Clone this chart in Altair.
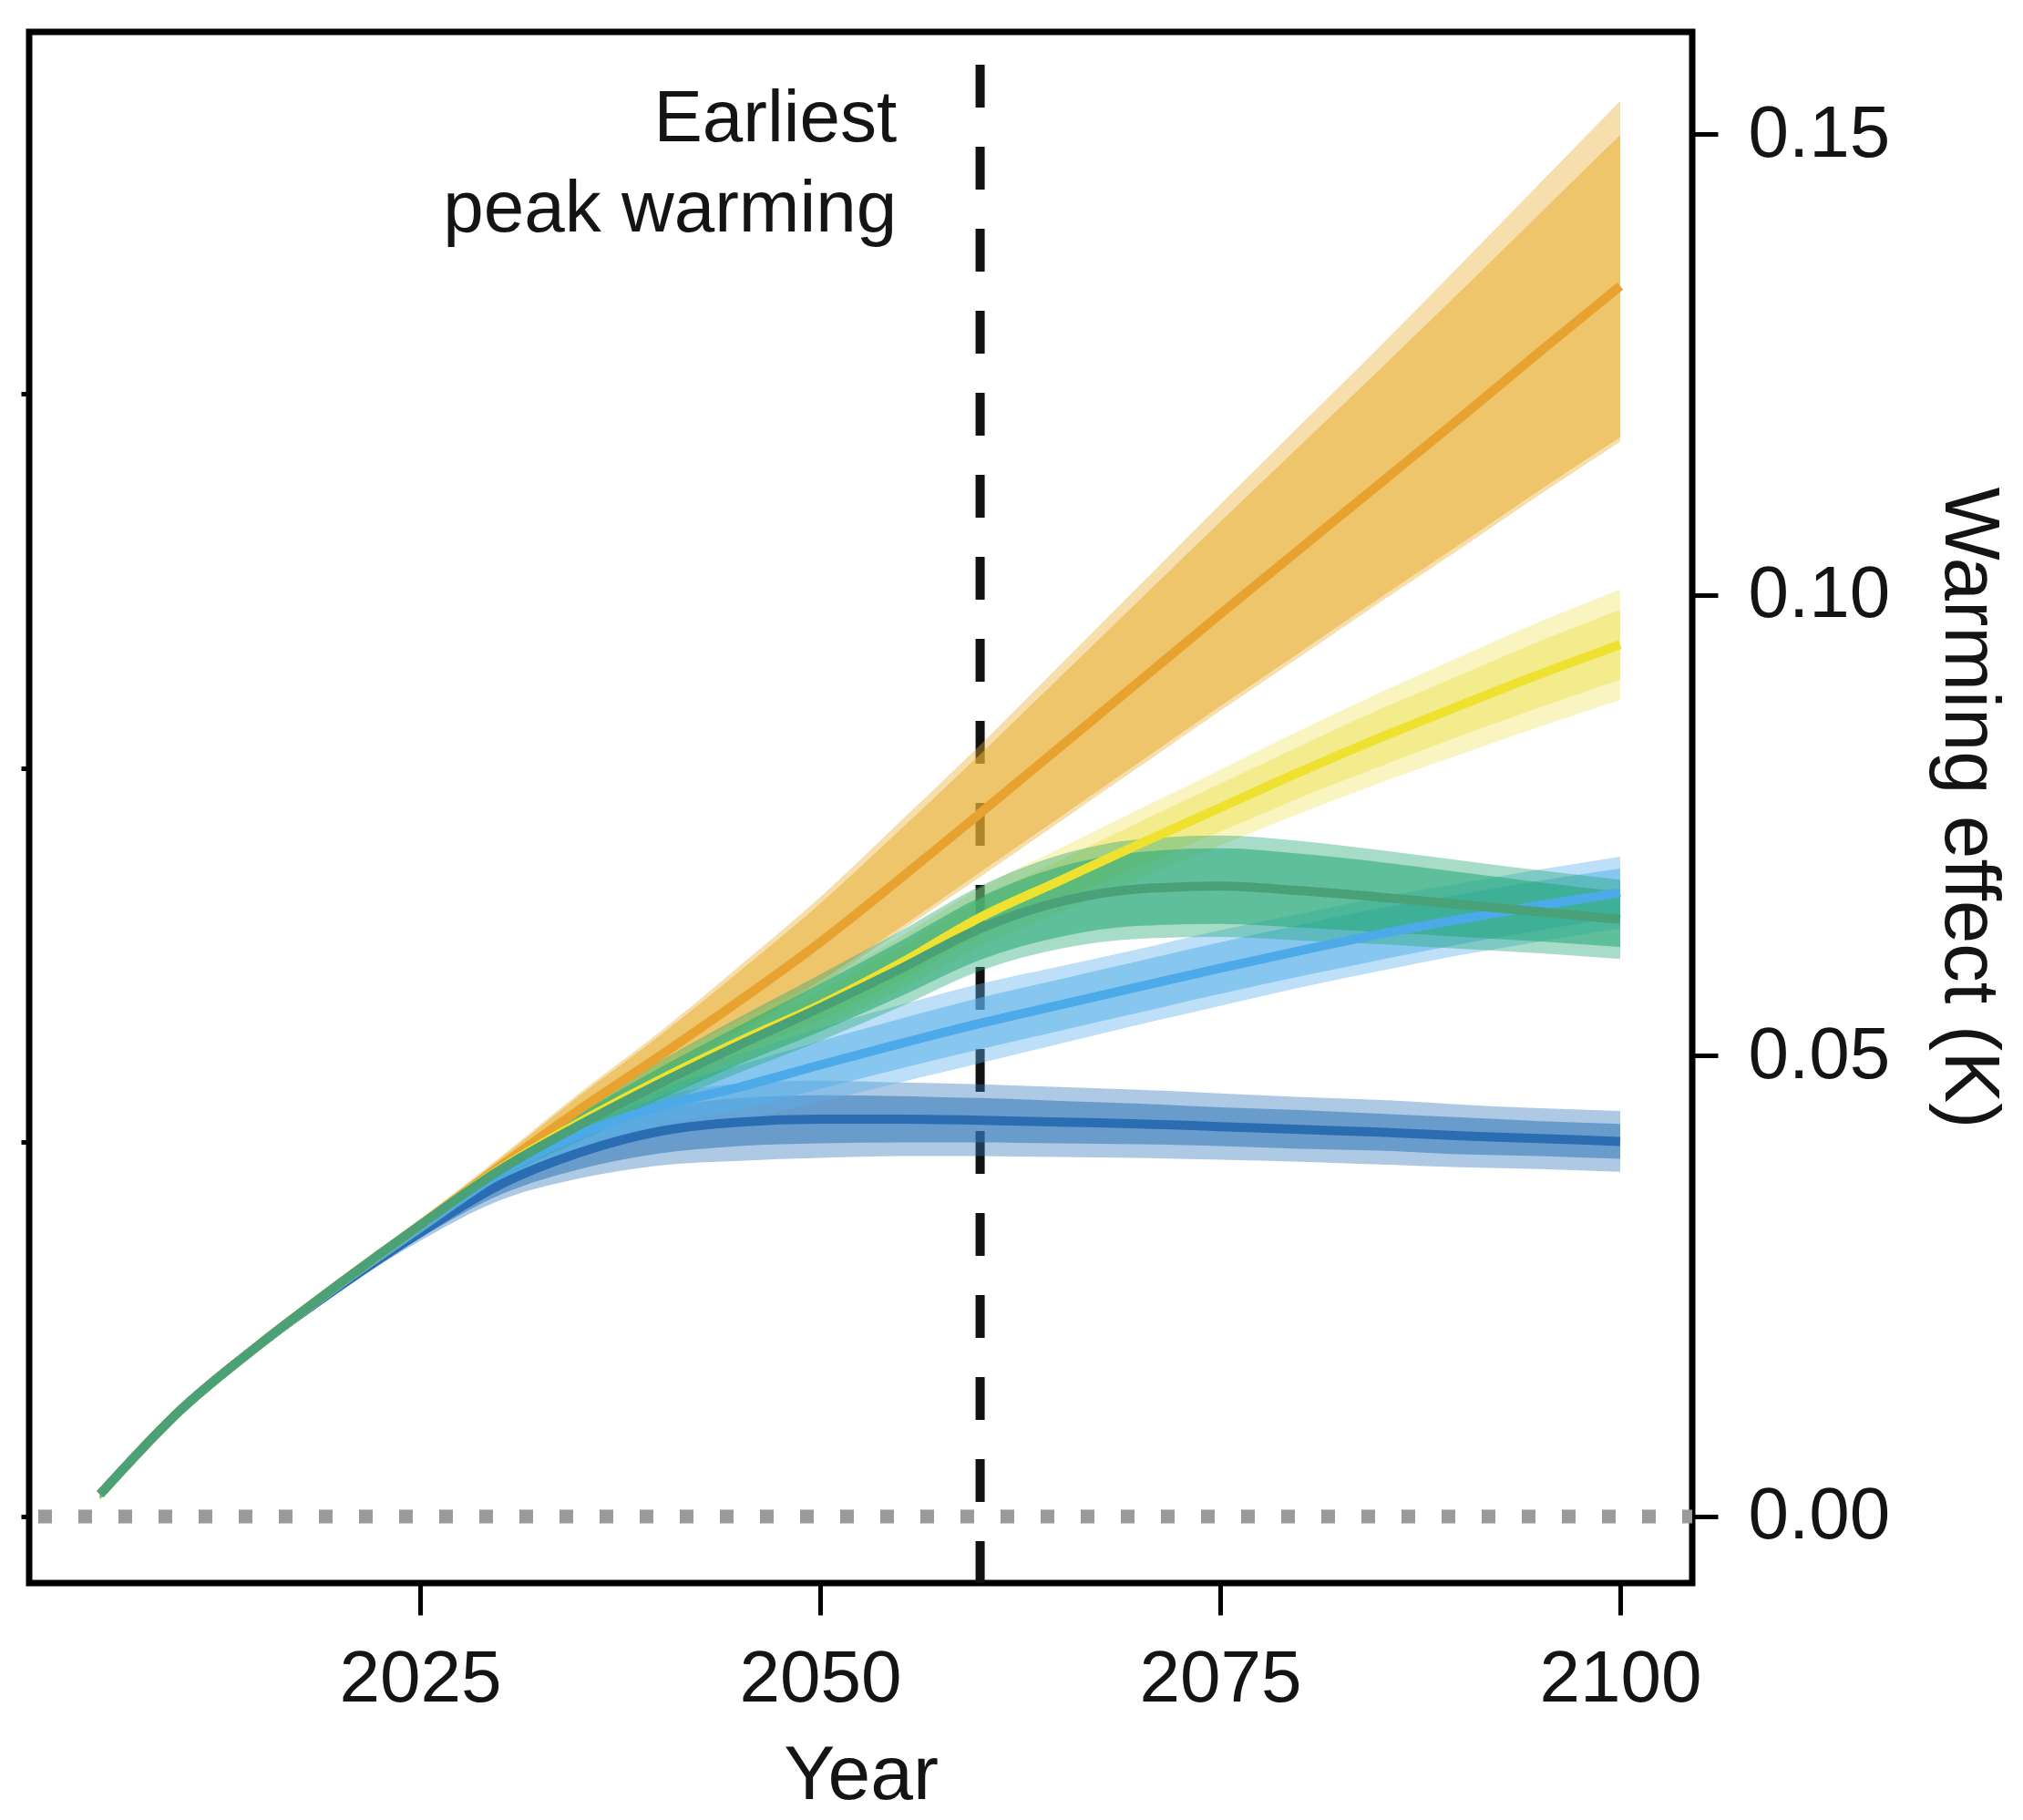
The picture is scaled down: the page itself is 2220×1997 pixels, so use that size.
import altair as alt
import pandas as pd

YEARS = [2005, 2010, 2015, 2020, 2025, 2030, 2035, 2040, 2045, 2050,
         2055, 2060, 2065, 2070, 2075, 2080, 2085, 2090, 2095, 2100]

# ---- orange scenario ----
OR_MED = [.0024, .0115, .0187, .0253, .0316, .0380, .0442, .0500, .0560, .0623,
          .0692, .0763, .0835, .0907, .0979, .1050, .1121, .1192, .1264, .1335]
OR_IN_LO = [.0020, .0111, .0183, .0249, .0311, .0372, .0427, .0478, .0528, .0581,
            .0639, .0699, .0759, .0819, .0879, .0938, .0997, .1055, .1114, .1171]
OR_IN_HI = [.0028, .0119, .0191, .0257, .0321, .0388, .0457, .0522, .0592, .0665,
            .0745, .0827, .0911, .0995, .1079, .1162, .1245, .1329, .1414, .1499]
OR_OUT_LO = [.0018, .0109, .0181, .0246, .0308, .0369, .0424, .0475, .0525, .0577,
             .0635, .0694, .0754, .0814, .0874, .0933, .0992, .1050, .1109, .1166]
OR_OUT_HI = [.0030, .0121, .0193, .0259, .0323, .0390, .0460, .0526, .0598, .0672,
             .0754, .0837, .0924, .1011, .1098, .1184, .1270, .1358, .1447, .1536]

# ---- yellow scenario ----
YE_MED = [.0024, .0115, .0187, .0253, .0316, .0377, .0428, .0474, .0516, .0555,
          .0600, .0650, .0690, .0730, .0769, .0808, .0845, .0880, .0914, .0946]
YE_IN_LO = [.0020, .0111, .0183, .0249, .0312, .0371, .0419, .0462, .0502, .0539,
            .0582, .0630, .0668, .0706, .0743, .0780, .0814, .0847, .0878, .0908]
YE_IN_HI = [.0028, .0119, .0191, .0257, .0320, .0383, .0437, .0486, .0530, .0571,
            .0618, .0670, .0712, .0754, .0795, .0836, .0876, .0913, .0950, .0984]
YE_OUT_LO = [.0019, .0110, .0182, .0248, .0311, .0368, .0414, .0455, .0493, .0529,
             .0571, .0618, .0655, .0692, .0728, .0763, .0796, .0827, .0857, .0886]
YE_OUT_HI = [.0029, .0120, .0192, .0258, .0321, .0386, .0442, .0493, .0539, .0581,
             .0629, .0682, .0725, .0768, .0810, .0853, .0894, .0933, .0971, .1006]

# ---- green scenario ----
GR_MED = [.0024, .0115, .0187, .0253, .0316, .0376, .0425, .0470, .0512, .0552,
          .0594, .0638, .0667, .0681, .0684, .0679, .0672, .0664, .0656, .0648]
GR_IN_LO = [.0020, .0111, .0183, .0249, .0312, .0369, .0413, .0453, .0491, .0526,
            .0564, .0604, .0629, .0641, .0643, .0639, .0634, .0629, .0624, .0618]
GR_IN_HI = [.0028, .0119, .0191, .0257, .0320, .0383, .0437, .0487, .0533, .0578,
            .0624, .0672, .0705, .0721, .0725, .0719, .0710, .0699, .0688, .0678]
GR_OUT_LO = [.0019, .0110, .0182, .0248, .0311, .0366, .0408, .0446, .0482, .0516,
             .0553, .0592, .0616, .0627, .0629, .0625, .0621, .0616, .0611, .0605]
GR_OUT_HI = [.0029, .0120, .0192, .0258, .0321, .0386, .0442, .0494, .0542, .0588,
             .0635, .0684, .0718, .0735, .0739, .0733, .0723, .0712, .0701, .0691]

# ---- light blue scenario ----
LB_MED = [.0024, .0115, .0187, .0252, .0313, .0372, .0415, .0445, .0466, .0490,
          .0513, .0535, .0555, .0575, .0595, .0614, .0632, .0648, .0663, .0677]
LB_IN_LO = [.0020, .0111, .0183, .0248, .0309, .0364, .0401, .0425, .0442, .0464,
            .0486, .0507, .0527, .0547, .0567, .0586, .0604, .0621, .0636, .0651]
LB_IN_HI = [.0028, .0119, .0191, .0256, .0317, .0380, .0429, .0465, .0490, .0516,
            .0540, .0563, .0583, .0603, .0623, .0642, .0660, .0675, .0690, .0703]
LB_OUT_LO = [.0019, .0110, .0182, .0247, .0308, .0360, .0394, .0415, .0430, .0450,
             .0471, .0492, .0513, .0534, .0554, .0574, .0592, .0609, .0624, .0638]
LB_OUT_HI = [.0029, .0120, .0192, .0257, .0318, .0384, .0436, .0475, .0502, .0530,
             .0555, .0578, .0597, .0616, .0636, .0654, .0672, .0687, .0702, .0716]

# ---- dark blue scenario ----
DB_MED = [.0024, .0115, .0187, .0250, .0308, .0360, .0395, .0418, .0428, .0431,
          .0431, .0430, .0428, .0426, .0423, .0420, .0417, .0413, .0410, .0407]
DB_IN_LO = [.0020, .0111, .0183, .0246, .0302, .0349, .0377, .0394, .0402, .0405,
            .0406, .0406, .0405, .0404, .0402, .0399, .0397, .0393, .0391, .0388]
DB_IN_HI = [.0028, .0119, .0191, .0254, .0314, .0371, .0413, .0442, .0454, .0457,
            .0456, .0454, .0451, .0448, .0444, .0441, .0437, .0433, .0429, .0426]
DB_OUT_LO = [.0019, .0110, .0182, .0245, .0299, .0343, .0367, .0381, .0386, .0389,
             .0391, .0391, .0390, .0389, .0387, .0385, .0382, .0379, .0377, .0374]
DB_OUT_HI = [.0029, .0120, .0192, .0255, .0317, .0377, .0423, .0455, .0470, .0473,
             .0471, .0469, .0466, .0463, .0459, .0455, .0452, .0447, .0443, .0440]

SERIES_NAMES = ["dark blue", "light blue", "orange", "yellow", "green"]
BAND_COLORS = ["#3177B8", "#5AB0EA", "#E8AE33", "#EFE461", "#24A779"]
LINE_COLORS = ["#2A6DB2", "#4DAAE8", "#E8A22F", "#EFE12F", "#4AA077"]
SERIES_DATA = [
    (DB_MED, DB_IN_LO, DB_IN_HI, DB_OUT_LO, DB_OUT_HI),
    (LB_MED, LB_IN_LO, LB_IN_HI, LB_OUT_LO, LB_OUT_HI),
    (OR_MED, OR_IN_LO, OR_IN_HI, OR_OUT_LO, OR_OUT_HI),
    (YE_MED, YE_IN_LO, YE_IN_HI, YE_OUT_LO, YE_OUT_HI),
    (GR_MED, GR_IN_LO, GR_IN_HI, GR_OUT_LO, GR_OUT_HI),
]

X_TICKS = [2025, 2050, 2075, 2100]
Y_TICKS = [0.0, 0.05, 0.10, 0.15]
LEFT_TICKS = [0.0, 0.0406, 0.0812, 0.1218]
PEAK_YEAR = 2060
ANNOT_TEXT = ["Earliest", "peak warming"]

X_MIN, X_MAX = 2000.57, 2104.5
Y_MIN, Y_MAX = -0.00722, 0.16108

FONT = "Liberation Sans"
TXT = "#141414"
W, H = 1825, 1702

xscale = alt.Scale(domain=[X_MIN, X_MAX], nice=False, zero=False)
yscale = alt.Scale(domain=[Y_MIN, Y_MAX], nice=False, zero=False)

x_axis = alt.Axis(orient="bottom", values=X_TICKS, format="d", domain=False, grid=False,
                  ticks=True, tickSize=35, tickWidth=5, tickColor="black",
                  labelFont=FONT, labelFontSize=80, labelColor=TXT, labelPadding=31,
                  title="Year", titleFont=FONT, titleFontSize=84, titleFontWeight="normal",
                  titleColor=TXT, titleBaseline="alphabetic", titleY=236)
right_axis = alt.Axis(orient="right", values=Y_TICKS, format=".2f", domain=False, grid=False,
                      tickSize=28, tickWidth=5, tickColor="black",
                      labelFont=FONT, labelFontSize=80, labelColor=TXT, labelPadding=33,
                      title="Warming effect (K)", titleFont=FONT, titleFontSize=85,
                      titleFontWeight="normal", titleColor=TXT, titleAngle=90,
                      titleBaseline="alphabetic", titleAlign="center", titleX=277, titleY=H / 2)
left_axis = alt.Axis(orient="left", values=LEFT_TICKS, domain=False, grid=False,
                     labels=False, tickSize=9, tickWidth=5, tickColor="black", title="")

layers = []

# zero reference line (dotted)
zero = alt.Chart(pd.DataFrame({"v": [0.0]})).mark_rule(
    color="#9a9a9a", strokeWidth=15, strokeDash=[15, 29], strokeDashOffset=4
).encode(y=alt.Y("v:Q", scale=yscale, axis=left_axis))
layers.append(zero)

# earliest peak warming (dashed)
peak = alt.Chart(pd.DataFrame({"yr": [PEAK_YEAR], "top": [0.15752], "bot": [Y_MIN]})).mark_rule(
    color="#111111", strokeWidth=10, strokeDash=[47, 43]
).encode(x=alt.X("yr:Q", scale=xscale, axis=x_axis),
         y=alt.Y("top:Q", scale=yscale, axis=None),
         y2="bot:Q")
layers.append(peak)

frames = []
for (med, ilo, ihi, olo, ohi), name in zip(SERIES_DATA, SERIES_NAMES):
    frames.append(pd.DataFrame({"year": YEARS, "med": med, "ilo": ilo, "ihi": ihi,
                                "olo": olo, "ohi": ohi, "series": name}))

for df, bc in zip(frames, BAND_COLORS):
    outer = alt.Chart(df).mark_area(interpolate="monotone", color=bc, opacity=0.4).encode(
        x=alt.X("year:Q", scale=xscale, axis=None),
        y=alt.Y("olo:Q", scale=yscale, axis=None), y2="ohi:Q")
    inner = alt.Chart(df).mark_area(interpolate="monotone", color=bc, opacity=0.55).encode(
        x=alt.X("year:Q", scale=xscale, axis=None),
        y=alt.Y("ilo:Q", scale=yscale, axis=None), y2="ihi:Q")
    layers += [outer, inner]

for i, (df, lc) in enumerate(zip(frames, LINE_COLORS)):
    yax = right_axis if i == len(frames) - 1 else None
    line = alt.Chart(df).mark_line(interpolate="monotone", color=lc, strokeWidth=10).encode(
        x=alt.X("year:Q", scale=xscale, axis=None),
        y=alt.Y("med:Q", scale=yscale, axis=yax))
    layers.append(line)

annot = alt.Chart(pd.DataFrame({"yr": [2054.8], "v": [0.1492]})).mark_text(
    text=ANNOT_TEXT, align="right", baseline="alphabetic", font=FONT, fontSize=80,
    lineHeight=99, color=TXT
).encode(x=alt.X("yr:Q", scale=xscale, axis=None),
         y=alt.Y("v:Q", scale=yscale, axis=None))
layers.append(annot)

chart = alt.layer(*layers).resolve_axis(x="independent", y="independent").properties(
    width=W, height=H,
    autosize=alt.AutoSizeParams(type="none"),
    padding={"left": 24, "top": 27, "right": 355, "bottom": 255},
    background="white",
).configure_view(stroke="black", strokeWidth=7)

chart.save("out.html", embed_options={"renderer": "svg", "actions": False})
